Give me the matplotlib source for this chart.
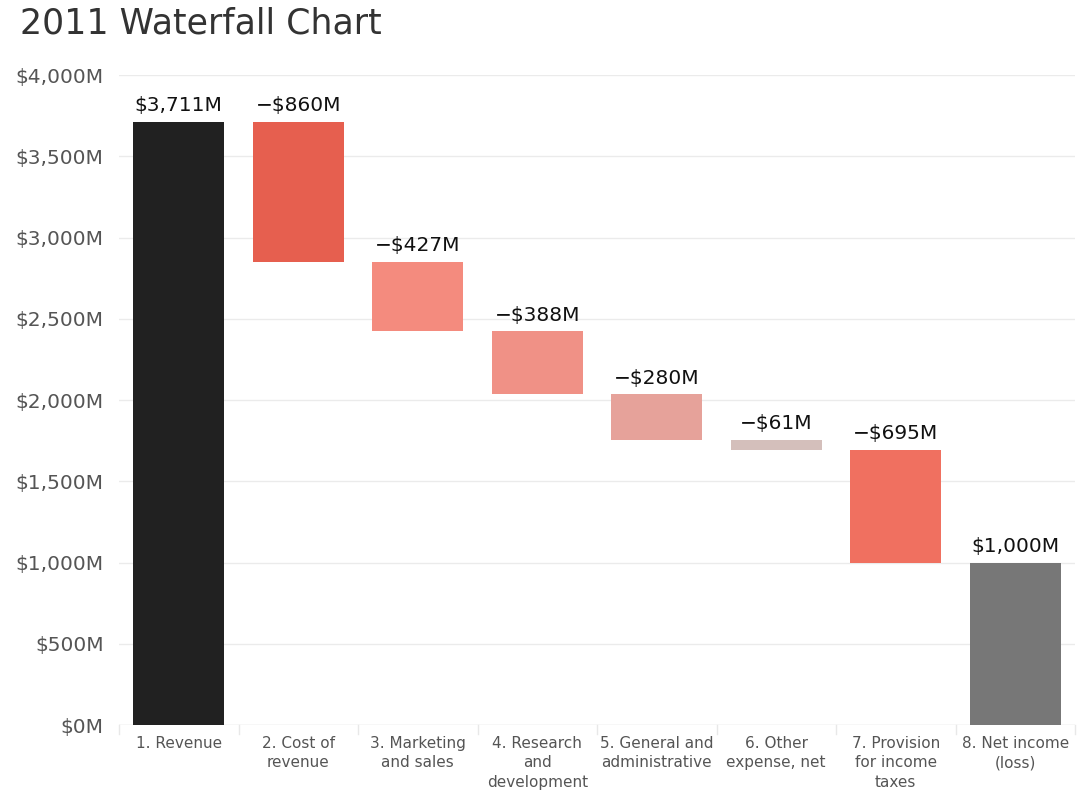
import matplotlib
matplotlib.use("Agg")
import matplotlib.pyplot as plt
import numpy as np

categories = ["1. Revenue", "2. Cost of\nrevenue", "3. Marketing\nand sales",
              "4. Research\nand\ndevelopment", "5. General and\nadministrative",
              "6. Other\nexpense, net", "7. Provision\nfor income\ntaxes",
              "8. Net income\n(loss)"]
values = [3711, -860, -427, -388, -280, -61, -695, 1000]
is_total = [True, False, False, False, False, False, False, True]
colors = ["#212121", "#E65F4F", "#F48B7E", "#F09186", "#E6A29A", "#D4BFBB", "#F07060", "#777777"]
yticks = [0, 500, 1000, 1500, 2000, 2500, 3000, 3500, 4000]

plt.rcParams['font.family'] = ['DejaVu Sans']
fig = plt.figure(figsize=(10.8, 8.05), dpi=100)
ax = fig.add_axes([119/1080, 80/805, (1075-119)/1080, 650/805])

x = np.arange(len(categories))
bottoms, heights = [], []
running = 0
for v, t in zip(values, is_total):
    if t:
        bottoms.append(0); heights.append(v); running = v
    else:
        bottoms.append(running + v); heights.append(-v); running += v

ax.bar(x, heights, bottom=bottoms, width=0.76, color=colors, zorder=3)
for xi, v, b, h in zip(x, values, bottoms, heights):
    lab = f"${v:,}M" if v >= 0 else f"\u2212${-v:,}M"
    ax.text(xi, b + h + 40, lab, ha="center", va="bottom", fontsize=14.5, color="#111111", zorder=4)

ax.set_xlim(-0.5, len(categories) - 0.5)
ax.set_ylim(0, 4000)
ax.set_yticks(yticks)
ax.set_yticklabels([f"${t:,}M" for t in yticks], fontsize=14.5, color="#555555")
ax.tick_params(axis="y", length=0, pad=11)
ax.set_xticks(x)
ax.set_xticklabels(categories, fontsize=11, color="#555555", linespacing=1.35, va="top")
ax.tick_params(axis="x", length=0, pad=8)
# band separators
for b in np.arange(-0.5, len(categories), 1.0):
    ax.plot([b, b], [0, -55], color="#E8E8E8", lw=1, clip_on=False, zorder=1)
ax.grid(axis="y", color="#EBEBEB", lw=1, zorder=0)
for s in ax.spines.values():
    s.set_visible(False)
ax.axhline(0, color="#E8E8E8", lw=1, zorder=1)

fig.text(20/1080, 1 - 23/805, "2011 Waterfall Chart", fontsize=25, color="#333333", ha="left", va="center")
fig.savefig("out.png", dpi=100)
